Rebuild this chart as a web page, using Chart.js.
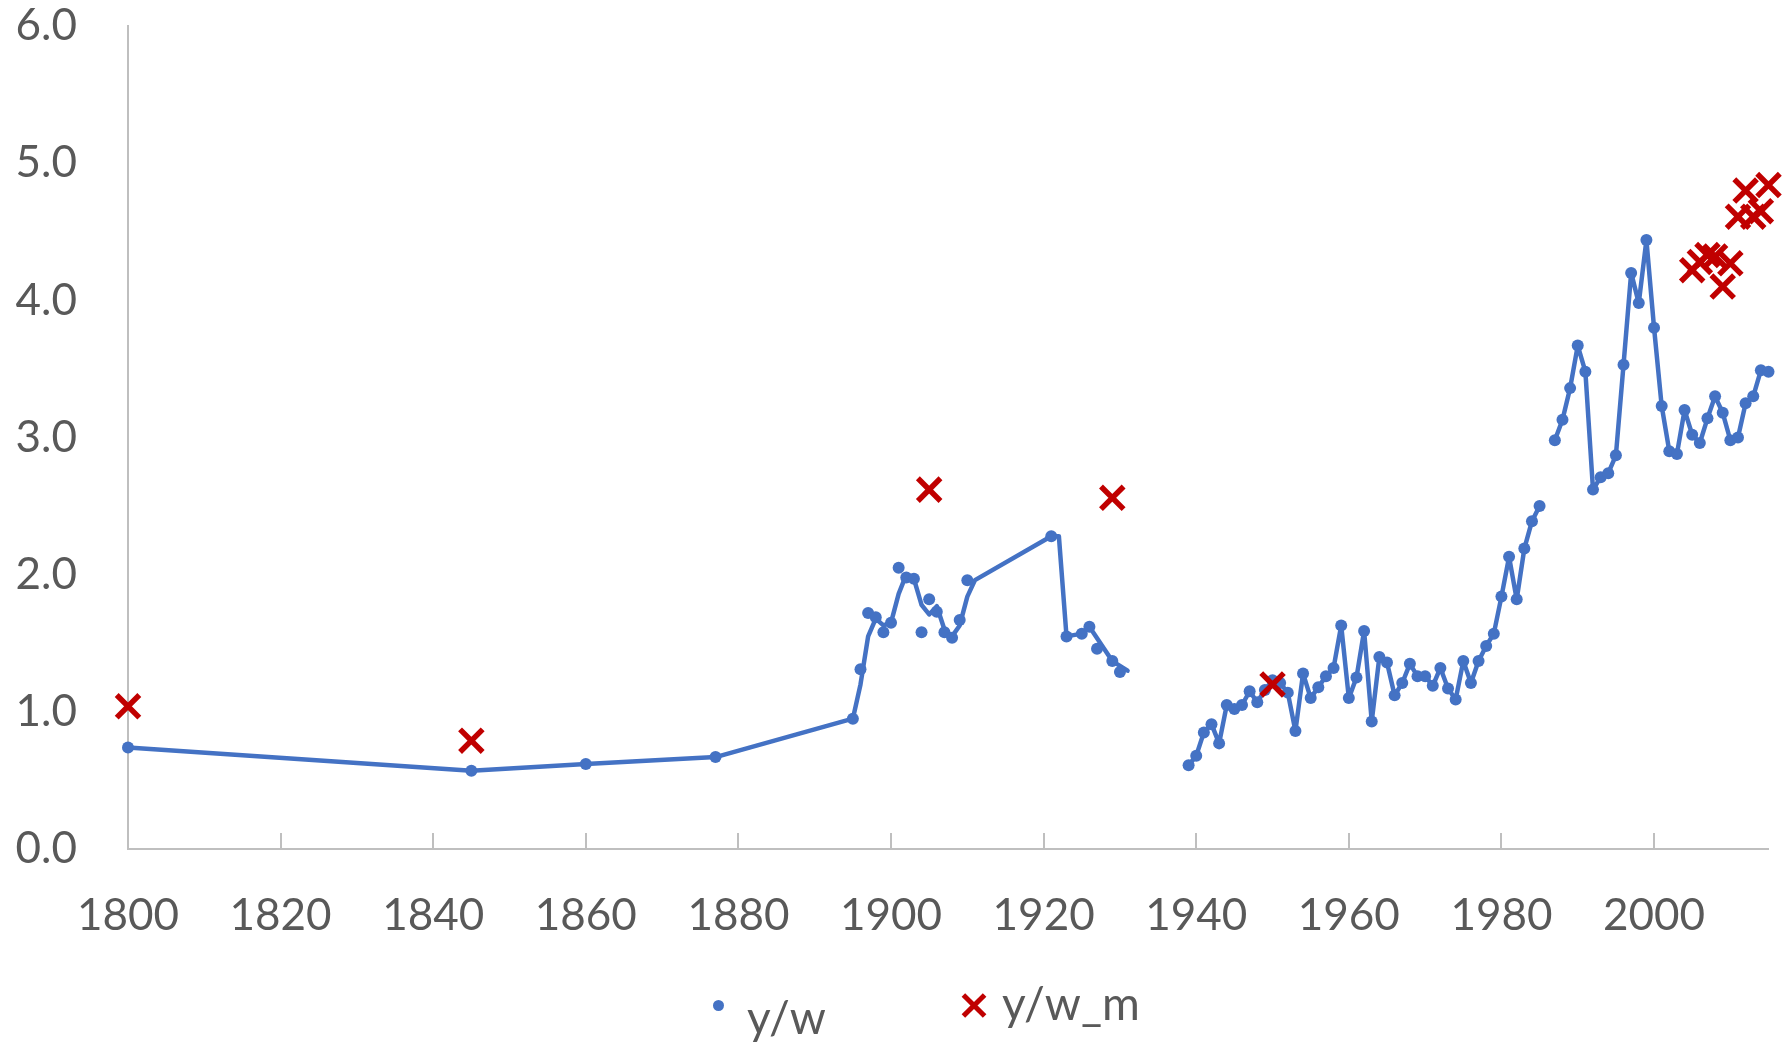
<!DOCTYPE html>
<html>
<head>
<meta charset="utf-8">
<script src="https://cdn.jsdelivr.net/npm/chart.js@4.4.1/dist/chart.umd.min.js"></script>
<style>
  body { margin: 0; background: #fff; }
  #wrap { position: relative; width: 1790px; height: 1048px; overflow: hidden; }
  .lg { position: absolute; font-family: Lato, sans-serif; font-size: 46px; line-height: 46px; color: #595959; white-space: nowrap; }
  .dot { position: absolute; width: 11px; height: 11px; border-radius: 50%; background: #4472C4; }
  .xbar { position: absolute; width: 30px; height: 5px; background: #C00000; }
</style>
</head>
<body>
<div id="wrap">
  <canvas id="grafico" width="1790" height="1048"></canvas>
  <div class="dot" style="left:713px; top:1000px;"></div>
  <div class="lg" style="left:747px; top:994px;">y/w</div>
  <div class="xbar" style="left:959px; top:1003px; transform:rotate(45deg);"></div>
  <div class="xbar" style="left:959px; top:1003px; transform:rotate(-45deg);"></div>
  <div class="lg" style="left:1002px; top:980px;">y/w_m</div>
</div>
<script>
// y/w puntos (marcadores)
const anosTempranos = [1800, 1845, 1860, 1877, 1895, 1896, 1897, 1898, 1899, 1900, 1901, 1902, 1903, 1904,
    1905, 1906, 1907, 1908, 1909, 1910, 1921, 1923, 1925, 1926, 1927, 1929, 1930];
const valoresTempranos = [0.74, 0.57, 0.62, 0.67, 0.95, 1.31, 1.72, 1.69, 1.58, 1.65, 2.05, 1.98, 1.97, 1.58,
    1.82, 1.73, 1.58, 1.54, 1.67, 1.96, 2.28, 1.55, 1.57, 1.62, 1.46, 1.37, 1.29];

const anosPosguerra = [1939, 1940, 1941, 1942, 1943, 1944, 1945, 1946, 1947, 1948, 1949, 1950, 1951, 1952,
    1953, 1954, 1955, 1956, 1957, 1958, 1959, 1960, 1961, 1962, 1963, 1964, 1965, 1966, 1967, 1968, 1969,
    1970, 1971, 1972, 1973, 1974, 1975, 1976, 1977, 1978, 1979, 1980, 1981, 1982, 1983, 1984, 1985];
const valoresPosguerra = [0.61, 0.68, 0.85, 0.91, 0.77, 1.05, 1.02, 1.05, 1.15, 1.07, 1.16, 1.23, 1.21, 1.14,
    0.86, 1.28, 1.10, 1.18, 1.26, 1.32, 1.63, 1.10, 1.25, 1.59, 0.93, 1.40, 1.36, 1.12, 1.21, 1.35, 1.26,
    1.26, 1.19, 1.32, 1.17, 1.09, 1.37, 1.21, 1.37, 1.48, 1.57, 1.84, 2.13, 1.82, 2.19, 2.39, 2.50];

const anosModernos = [1987, 1988, 1989, 1990, 1991, 1992, 1993, 1994, 1995, 1996, 1997, 1998, 1999, 2000,
    2001, 2002, 2003, 2004, 2005, 2006, 2007, 2008, 2009, 2010, 2011, 2012, 2013, 2014, 2015];
const valoresModernos = [2.98, 3.13, 3.36, 3.67, 3.48, 2.62, 2.71, 2.74, 2.87, 3.53, 4.20, 3.98, 4.44, 3.80,
    3.23, 2.90, 2.88, 3.20, 3.02, 2.96, 3.14, 3.30, 3.18, 2.98, 3.00, 3.25, 3.30, 3.49, 3.48];

// trazo de la linea hasta 1931 (no pasa exacto por todos los puntos)
const anosLinea = [1800, 1845, 1860, 1877, 1895, 1896, 1897, 1898, 1899, 1900, 1901, 1902, 1903, 1904,
    1905, 1906, 1907, 1908, 1909, 1910, 1911, 1921, 1922, 1923, 1925, 1926, 1929, 1931];
const valoresLinea = [0.74, 0.57, 0.62, 0.67, 0.95, 1.20, 1.55, 1.68, 1.63, 1.65, 1.86, 2.00, 1.97, 1.78,
    1.71, 1.77, 1.60, 1.55, 1.63, 1.84, 1.96, 2.28, 2.28, 1.55, 1.57, 1.62, 1.37, 1.30];

// y/w_m
const anosM = [1800, 1845, 1905, 1929, 1950, 2005, 2006, 2007, 2008, 2009, 2010, 2011, 2012, 2013, 2014, 2015];
const valoresM = [1.04, 0.79, 2.62, 2.56, 1.20, 4.22, 4.28, 4.33, 4.32, 4.10, 4.27, 4.61, 4.80, 4.61, 4.65, 4.84];

const ticksX = [1800, 1820, 1840, 1860, 1880, 1900, 1920, 1940, 1960, 1980, 2000];

const azul = '#4472C4';
const rojo = '#C00000';
const gris = '#BFBFBF';
const texto = '#595959';

const aPuntos = (xs, ys) => xs.map((x, i) => ({ x: x, y: ys[i] }));

const puntosYW = [
    ...aPuntos(anosTempranos, valoresTempranos),
    ...aPuntos(anosPosguerra, valoresPosguerra),
    ...aPuntos(anosModernos, valoresModernos)
];
const lineaYW = [
    ...aPuntos(anosLinea, valoresLinea),
    { x: 1935, y: null },
    ...aPuntos(anosPosguerra, valoresPosguerra),
    { x: 1986, y: null },
    ...aPuntos(anosModernos, valoresModernos)
];

// marcas de graduacion hacia adentro, como en Excel
const marcasInternas = {
    id: 'marcasInternas',
    beforeDatasetsDraw(chart) {
        const escala = chart.scales.x;
        const ctx = chart.ctx;
        ctx.save();
        ctx.strokeStyle = gris;
        ctx.lineWidth = 2;
        escala.ticks.forEach(t => {
            if (t.value === escala.min) return;
            const px = Math.round(escala.getPixelForValue(t.value));
            ctx.beginPath();
            ctx.moveTo(px, escala.top);
            ctx.lineTo(px, escala.top - 16);
            ctx.stroke();
        });
        ctx.restore();
    }
};

new Chart(document.getElementById('grafico'), {
    type: 'scatter',
    data: {
        datasets: [
            {
                label: 'linea',
                data: lineaYW,
                showLine: true,
                borderColor: azul,
                borderWidth: 4.5,
                borderJoinStyle: 'round',
                borderCapStyle: 'round',
                pointRadius: 0,
                tension: 0,
                spanGaps: false,
                clip: false,
                order: 2
            },
            {
                label: 'y/w',
                data: puntosYW,
                showLine: false,
                pointRadius: 6,
                pointBackgroundColor: azul,
                pointBorderWidth: 0,
                clip: false,
                order: 1
            },
            {
                label: 'y/w_m',
                data: aPuntos(anosM, valoresM),
                showLine: false,
                pointStyle: 'crossRot',
                pointRadius: 16,
                pointBorderColor: rojo,
                pointBorderWidth: 5.5,
                clip: false,
                order: 0
            }
        ]
    },
    options: {
        responsive: false,
        animation: false,
        events: [],
        layout: { padding: { top: 26, right: 18, left: 0, bottom: 0 } },
        plugins: {
            legend: { display: false },
            tooltip: { enabled: false }
        },
        scales: {
            x: {
                type: 'linear',
                min: 1800,
                max: 2015,
                grid: { display: false, drawTicks: false },
                border: { display: true, color: gris, width: 2 },
                afterBuildTicks: escala => {
                    escala.ticks = ticksX.map(v => ({ value: v }));
                },
                afterFit: escala => {
                    escala.height = 199;
                    escala.paddingLeft = 0;
                    escala.paddingRight = 0;
                },
                ticks: {
                    color: texto,
                    font: { family: 'Lato', size: 44 },
                    padding: 40,
                    maxRotation: 0,
                    callback: v => String(v)
                }
            },
            y: {
                min: 0,
                max: 6,
                grid: { display: false, drawTicks: false },
                border: { display: true, color: gris, width: 2 },
                afterFit: escala => {
                    escala.width = 128;
                    escala.paddingTop = 0;
                    escala.paddingBottom = 0;
                },
                ticks: {
                    stepSize: 1,
                    color: texto,
                    font: { family: 'Lato', size: 44 },
                    padding: 51,
                    callback: v => v.toFixed(1)
                }
            }
        }
    },
    plugins: [marcasInternas]
});
</script>
</body>
</html>
